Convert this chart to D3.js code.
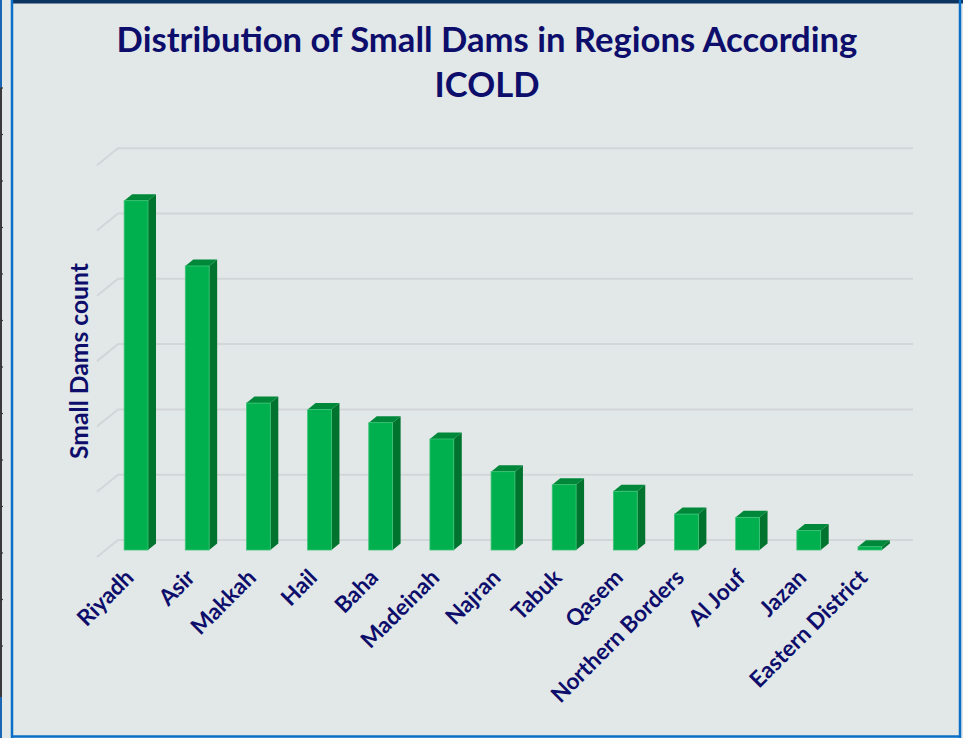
<!DOCTYPE html>
<html>
<head>
<meta charset="utf-8">
<script src="https://cdn.jsdelivr.net/npm/d3@7"></script>
<style>
  html, body { margin: 0; padding: 0; background: #e2e7e7; }
  svg { display: block; }
  text { font-family: Lato, "Open Sans", "Noto Sans", sans-serif; font-weight: 700; }
</style>
</head>
<body>
<svg id="chart" width="963" height="738"></svg>
<script>
// Small dams per region (ICOLD classification)
const regions = ["Riyadh", "Asir", "Makkah", "Hail", "Baha", "Madeinah", "Najran",
                 "Tabuk", "Qasem", "Northern Borders", "Al Jouf", "Jazan", "Eastern District"];
const smallDams = [107, 87, 45, 43, 39, 34, 24, 20, 18, 11, 10, 6, 1];
const yTicks = [0, 20, 40, 60, 80, 100, 120];

const titleLines = ["Distribution of Small Dams in Regions According", "ICOLD"];
const yAxisTitle = "Small Dams count";

const W = 963, H = 738;
const navy = "#0d0d6b";
const svg = d3.select("#chart");

// fit a text element's font size so its run length equals target
function fitText(sel, baseSize, target) {
  sel.attr("font-size", baseSize);
  const len = sel.node().getComputedTextLength();
  const size = baseSize * target / len;
  sel.attr("font-size", size);
  return size;
}

// page background and frame
svg.append("rect").attr("width", W).attr("height", H).attr("fill", "#e2e7e7");
svg.append("rect").attr("x", 12).attr("y", 0).attr("width", W - 12).attr("height", 3.5).attr("fill", "#0b3560");
svg.append("line").attr("x1", 12).attr("x2", 12).attr("y1", 0).attr("y2", H).attr("stroke", "#0a6fc8").attr("stroke-width", 2.5);
svg.append("line").attr("x1", 960).attr("x2", 960).attr("y1", 0).attr("y2", H).attr("stroke", "#0a6fc8").attr("stroke-width", 2.5);
svg.append("line").attr("x1", 12).attr("x2", 961).attr("y1", 736.5).attr("y2", 736.5).attr("stroke", "#0a6fc8").attr("stroke-width", 2.5);

// ruled strip on the far left edge
svg.append("line").attr("x1", 1).attr("x2", 1).attr("y1", 0).attr("y2", 88).attr("stroke", "#1a66b5").attr("stroke-width", 2);
svg.append("line").attr("x1", 1).attr("x2", 1).attr("y1", 88).attr("y2", 697).attr("stroke", "#3a3a3a").attr("stroke-width", 2);
svg.append("line").attr("x1", 1).attr("x2", 1).attr("y1", 697).attr("y2", H).attr("stroke", "#1a66b5").attr("stroke-width", 2);
const ruleYs = d3.range(13).map(i => 88 + i * 46.5);
svg.selectAll("line.rule").data(ruleYs).join("line").attr("class", "rule")
  .attr("x1", 0).attr("x2", 3).attr("y1", d => d).attr("y2", d => d)
  .attr("stroke", "#3a3a3a").attr("stroke-width", 1.2);

// plot geometry: back wall, floor depth and bar depth (oblique projection)
const floorFrontY = 557, backY = 540;
const wallDX = 21, wallDY = -17;
const barDX = 8, barDY = -6.5;
const barShiftX = 8.5, barShiftY = -7;   // bar front plane sits inside the floor

const x = d3.scaleBand().domain(regions).range([97, 892]).paddingInner(0).paddingOuter(0);
const y = d3.scaleLinear().domain([0, 120]).range([0, 391.8]);

// gridlines on back wall with diagonal onto the side wall
const grid = svg.append("g").attr("class", "grid");
yTicks.forEach(t => {
  const gy = backY - y(t);
  grid.append("path")
    .attr("d", `M${97},${gy - wallDY} L${97 + wallDX},${gy} L${892 + wallDX},${gy}`)
    .attr("fill", "none").attr("stroke", "#d3d6d8").attr("stroke-width", 2);
});

// 3D bars
const barW = x.bandwidth() * 0.39;
const baseY = floorFrontY + barShiftY;
const bars = svg.append("g").attr("class", "bars");
regions.forEach((r, i) => {
  const v = smallDams[i];
  const x0 = x(r) + x.bandwidth() / 2 - barW / 2 + barShiftX;
  const x1 = x0 + barW;
  const top = baseY - y(v);
  const g = bars.append("g");
  // side face
  g.append("path")
    .attr("d", `M${x1},${baseY} L${x1 + barDX},${baseY + barDY} L${x1 + barDX},${top + barDY} L${x1},${top} Z`)
    .attr("fill", "#00732f");
  // top face
  g.append("path")
    .attr("d", `M${x0},${top} L${x0 + barDX},${top + barDY} L${x1 + barDX},${top + barDY} L${x1},${top} Z`)
    .attr("fill", "#00883a");
  // front face
  g.append("rect")
    .attr("x", x0).attr("y", top).attr("width", barW).attr("height", baseY - top)
    .attr("fill", "#00b04f").attr("stroke", "#3dc476").attr("stroke-width", 0.8);
});

// category labels, rotated; size set from the longest label's run
const labels = svg.append("g").attr("class", "xlabels");
const probe = labels.append("text").text("Northern Borders");
const labelSize = fitText(probe, 17, 177);
probe.remove();
regions.forEach(r => {
  const cx = x(r) + x.bandwidth() / 2 + barShiftX - 1;
  labels.append("text")
    .attr("transform", `translate(${cx},${579}) rotate(-45)`)
    .attr("text-anchor", "end")
    .attr("fill", navy)
    .attr("font-size", labelSize)
    .text(r);
});

// axis title
const yt = svg.append("text")
  .attr("transform", "translate(88,361) rotate(-90)")
  .attr("text-anchor", "middle")
  .attr("fill", navy)
  .text(yAxisTitle);
fitText(yt, 20, 196);

// chart title
const t1 = svg.append("text").attr("x", 487).attr("y", 52).attr("text-anchor", "middle")
  .attr("fill", navy).text(titleLines[0]);
const fs = fitText(t1, 32, 741);
svg.append("text").attr("x", 487).attr("y", 97).attr("text-anchor", "middle")
  .attr("fill", navy).attr("font-size", fs).text(titleLines[1]);
</script>
</body>
</html>
